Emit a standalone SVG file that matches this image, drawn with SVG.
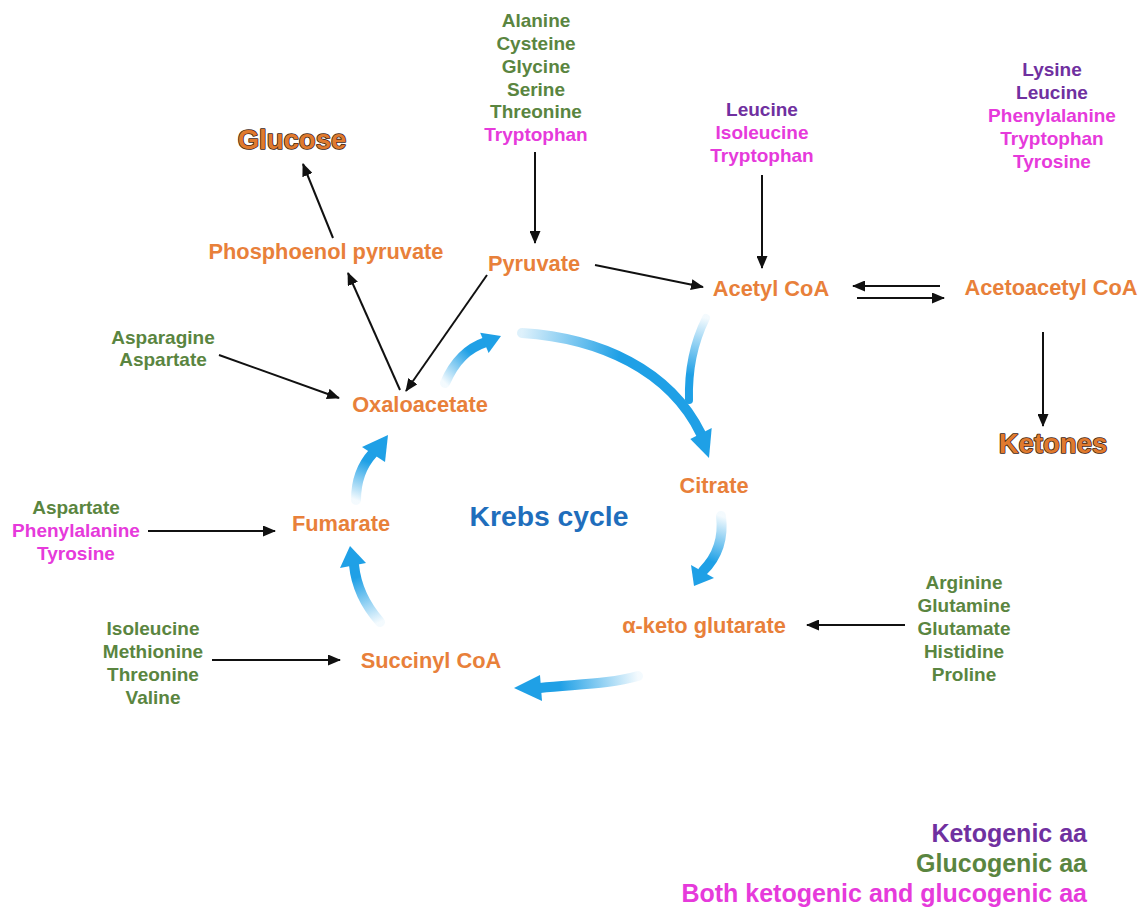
<svg xmlns="http://www.w3.org/2000/svg" width="1144" height="908" viewBox="0 0 1144 908">
<style>
text{font-family:"Liberation Sans",Arial,sans-serif;font-weight:bold;text-anchor:middle}
.aa{font-size:19px}
.g{fill:#5A8540}
.p{fill:#7030A0}
.m{fill:#E63ADB}
.lbl{font-size:21.8px;fill:#E8803A}
.big{font-size:27.5px;fill:#E07A2E;stroke:#3A2414;stroke-width:1.6px;paint-order:stroke;stroke-linejoin:round}
.krebs{font-size:28.3px;fill:#1F6EBC}
.leg text{font-size:25px;text-anchor:end}
.con line{stroke:#111;stroke-width:2;marker-end:url(#ah)}
.cyc path.b{fill:none;stroke-width:10;stroke-linecap:round}
.cyc polygon{fill:#1FA0E6}
</style>
<defs>
<marker id="ah" markerUnits="userSpaceOnUse" markerWidth="13" markerHeight="11" refX="12" refY="5.5" orient="auto">
<path d="M0,0 L13,5.5 L0,11 Z" fill="#111"/>
</marker>
<linearGradient id="g1" gradientUnits="userSpaceOnUse" x1="445" y1="383" x2="484" y2="343"><stop offset="0" stop-color="#1FA0E6" stop-opacity="0.05"/><stop offset="0.7" stop-color="#1FA0E6"/></linearGradient>
<linearGradient id="g2" gradientUnits="userSpaceOnUse" x1="522" y1="333" x2="620" y2="350"><stop offset="0" stop-color="#1FA0E6" stop-opacity="0.15"/><stop offset="1" stop-color="#1FA0E6"/></linearGradient>
<linearGradient id="g2b" gradientUnits="userSpaceOnUse" x1="706" y1="318" x2="690" y2="390"><stop offset="0" stop-color="#1FA0E6" stop-opacity="0.05"/><stop offset="0.8" stop-color="#1FA0E6"/></linearGradient>
<linearGradient id="g3" gradientUnits="userSpaceOnUse" x1="721" y1="516" x2="703" y2="571"><stop offset="0" stop-color="#1FA0E6" stop-opacity="0.05"/><stop offset="0.8" stop-color="#1FA0E6"/></linearGradient>
<linearGradient id="g4" gradientUnits="userSpaceOnUse" x1="638" y1="676" x2="540" y2="688"><stop offset="0" stop-color="#1FA0E6" stop-opacity="0.05"/><stop offset="0.8" stop-color="#1FA0E6"/></linearGradient>
<linearGradient id="g5" gradientUnits="userSpaceOnUse" x1="380" y1="622" x2="354" y2="565"><stop offset="0" stop-color="#1FA0E6" stop-opacity="0.05"/><stop offset="0.8" stop-color="#1FA0E6"/></linearGradient>
<linearGradient id="g6" gradientUnits="userSpaceOnUse" x1="356" y1="500" x2="373" y2="453"><stop offset="0" stop-color="#1FA0E6" stop-opacity="0.05"/><stop offset="0.8" stop-color="#1FA0E6"/></linearGradient>
</defs>
<rect width="1144" height="908" fill="#fff"/>

<g id="cycle-arrows" class="cyc">
<path class="b" d="M445,383 C455,360 468,348 486,342" stroke="url(#g1)"/>
<polygon points="501,336 488.6,353.1 480.2,332.7"/>
<path class="b" d="M522,333 C600,338 670,370 701,434" stroke="url(#g2)"/>
<path class="b" d="M706,318 C695,340 688,365 689,400" stroke="url(#g2b)" style="stroke-width:8"/>
<polygon points="709,458 690.3,438.9 711.7,428.1"/>
<path class="b" d="M721,516 C724,540 716,558 703,571" stroke="url(#g3)"/>
<polygon points="694,586 691,565 714,578"/>
<path class="b" d="M638,676 C610,684 580,684 540,688" stroke="url(#g4)"/>
<polygon points="514,688 540,675 542,701"/>
<path class="b" d="M380,622 C365,605 356,585 354,565" stroke="url(#g5)"/>
<polygon points="350,546 340,568 366,563"/>
<path class="b" d="M356,500 C356,480 362,465 373,453" stroke="url(#g6)"/>
<polygon points="388,435 362,447 385,462"/>
</g>

<g id="connectors" class="con">
<line x1="400" y1="390" x2="348" y2="273"/>
<line x1="333" y1="238" x2="303" y2="164"/>
<line x1="487" y1="275" x2="406" y2="391"/>
<line x1="535" y1="152" x2="535" y2="243"/>
<line x1="595" y1="265" x2="703" y2="287"/>
<line x1="762" y1="175" x2="762" y2="268"/>
<line x1="940" y1="286" x2="853" y2="286"/>
<line x1="857" y1="298" x2="944" y2="298"/>
<line x1="1043" y1="332" x2="1043" y2="426"/>
<line x1="219" y1="355" x2="339" y2="398"/>
<line x1="148" y1="531" x2="275" y2="531"/>
<line x1="212" y1="660" x2="340" y2="660"/>
<line x1="905" y1="625" x2="807" y2="625"/>
</g>

<g id="aa-pyruvate" class="aa">
<text x="536" y="26.5" class="g">Alanine</text>
<text x="536" y="49.5" class="g">Cysteine</text>
<text x="536" y="72.5" class="g">Glycine</text>
<text x="536" y="95.5" class="g">Serine</text>
<text x="536" y="117.5" class="g">Threonine</text>
<text x="536" y="140.5" class="m">Tryptophan</text>
</g>
<g id="aa-acetylcoa" class="aa">
<text x="762" y="115.5" class="p">Leucine</text>
<text x="762" y="138.5" class="m">Isoleucine</text>
<text x="762" y="161.5" class="m">Tryptophan</text>
</g>
<g id="aa-acetoacetyl" class="aa">
<text x="1052" y="75.5" class="p">Lysine</text>
<text x="1052" y="98.5" class="p">Leucine</text>
<text x="1052" y="121.5" class="m">Phenylalanine</text>
<text x="1052" y="144.5" class="m">Tryptophan</text>
<text x="1052" y="167.5" class="m">Tyrosine</text>
</g>
<g id="aa-oxaloacetate" class="aa">
<text x="163" y="343.5" class="g">Asparagine</text>
<text x="163" y="365.5" class="g">Aspartate</text>
</g>
<g id="aa-fumarate" class="aa">
<text x="76" y="513.5" class="g">Aspartate</text>
<text x="76" y="536.5" class="m">Phenylalanine</text>
<text x="76" y="559.5" class="m">Tyrosine</text>
</g>
<g id="aa-succinyl" class="aa">
<text x="153" y="634.5" class="g">Isoleucine</text>
<text x="153" y="657.5" class="g">Methionine</text>
<text x="153" y="680.5" class="g">Threonine</text>
<text x="153" y="703.5" class="g">Valine</text>
</g>
<g id="aa-akg" class="aa">
<text x="964" y="588.5" class="g">Arginine</text>
<text x="964" y="611.5" class="g">Glutamine</text>
<text x="964" y="634.5" class="g">Glutamate</text>
<text x="964" y="657.5" class="g">Histidine</text>
<text x="964" y="680.5" class="g">Proline</text>
</g>

<g id="glucose"><text x="292" y="149" class="big">Glucose</text></g>
<g id="ketones"><text x="1053" y="453" class="big">Ketones</text></g>
<g id="pep"><text x="326" y="258.5" class="lbl">Phosphoenol pyruvate</text></g>
<g id="pyruvate"><text x="534" y="270.5" class="lbl">Pyruvate</text></g>
<g id="acetylcoa"><text x="771" y="295.5" class="lbl">Acetyl CoA</text></g>
<g id="acetoacetylcoa"><text x="1051" y="294.5" class="lbl">Acetoacetyl CoA</text></g>
<g id="oxaloacetate"><text x="420" y="411.5" class="lbl">Oxaloacetate</text></g>
<g id="citrate"><text x="714" y="492.5" class="lbl">Citrate</text></g>
<g id="fumarate"><text x="341" y="530.5" class="lbl">Fumarate</text></g>
<g id="succinylcoa"><text x="431" y="667.5" class="lbl">Succinyl CoA</text></g>
<g id="akg"><text x="704" y="632.5" class="lbl">α-keto glutarate</text></g>
<g id="krebs"><text x="549" y="526" class="krebs">Krebs cycle</text></g>

<g id="legend" class="leg">
<text x="1087" y="842" class="p">Ketogenic aa</text>
<text x="1087" y="872" class="g">Glucogenic aa</text>
<text x="1087" y="902" class="m">Both ketogenic and glucogenic aa</text>
</g>
</svg>
